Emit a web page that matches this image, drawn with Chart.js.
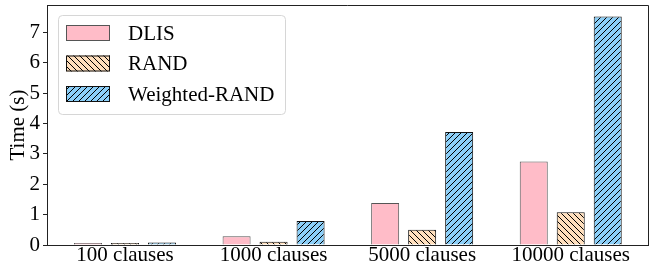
<!DOCTYPE html>
<html>
<head>
<meta charset="utf-8">
<script src="https://cdn.jsdelivr.net/npm/chart.js@4.4.0/dist/chart.umd.min.js"></script>
<style>
  html, body { margin: 0; padding: 0; background: #fff; }
  #chart { display: block; }
</style>
</head>
<body>
<canvas id="chart" width="658" height="267"></canvas>
<script>
    'use strict';

    // Chart data
    const categories = ['100 clauses', '1000 clauses', '5000 clauses', '10000 clauses'];
    const seriesNames = ['DLIS', 'RAND', 'Weighted-RAND'];
    const dlisTimes = [0.03, 0.29, 1.38, 2.75];
    const randTimes = [0.02, 0.11, 0.50, 1.08];
    const weightedRandTimes = [0.08, 0.79, 3.72, 7.52];
    const yTicks = [0, 1, 2, 3, 4, 5, 6, 7];

    const FONT = "'Liberation Serif', 'Times New Roman', serif";

    /**
     * Build a hatch pattern (dir 1 = '/', dir -1 = '\')
     */
    function makeHatch(fill, dir, size) {
        const tile = document.createElement('canvas');
        tile.width = size;
        tile.height = size;
        const c = tile.getContext('2d');
        c.fillStyle = fill;
        c.fillRect(0, 0, size, size);
        c.strokeStyle = '#000';
        c.lineWidth = 1;
        c.beginPath();
        if (dir > 0) {
            c.moveTo(0, size); c.lineTo(size, 0);
            c.moveTo(-1, 1); c.lineTo(1, -1);
            c.moveTo(size - 1, size + 1); c.lineTo(size + 1, size - 1);
        } else {
            c.moveTo(0, 0); c.lineTo(size, size);
            c.moveTo(-1, size - 1); c.lineTo(1, size + 1);
            c.moveTo(size - 1, -1); c.lineTo(size + 1, 1);
        }
        c.stroke();
        return c.createPattern(tile, 'repeat');
    }

    const toPoints = values => values.map((v, i) => ({ x: i, y: v }));

    // Frame (top/right spines) and in-plot legend
    const framePlugin = {
        id: 'frameAndLegend',
        afterDraw(chart) {
            const ctx = chart.ctx;
            const a = chart.chartArea;
            ctx.save();
            ctx.strokeStyle = '#222';
            ctx.lineWidth = 1;
            ctx.beginPath();
            ctx.moveTo(a.left, a.top + 0.5);
            ctx.lineTo(a.right + 0.5, a.top + 0.5);
            ctx.lineTo(a.right + 0.5, a.bottom);
            ctx.stroke();

            // legend box
            const bx = a.left + 11, by = a.top + 10, bw = 227, bh = 99;
            ctx.fillStyle = 'rgba(255,255,255,0.8)';
            ctx.strokeStyle = '#d6d6d6';
            ctx.beginPath();
            ctx.roundRect(bx + 0.5, by + 0.5, bw, bh, 4);
            ctx.fill();
            ctx.stroke();

            ctx.font = '21px ' + FONT;
            ctx.textBaseline = 'middle';
            ctx.textAlign = 'left';
            chart.data.datasets.forEach((ds, i) => {
                const py = by + 10 + i * 30.5;
                ctx.fillStyle = ds.backgroundColor;
                ctx.fillRect(bx + 8, py, 44, 16);
                ctx.strokeStyle = ds.borderColor;
                ctx.strokeRect(bx + 8.5, py + 0.5, 43, 15);
                ctx.fillStyle = '#000';
                ctx.fillText(ds.label, bx + 70, py + 9);
            });
            ctx.restore();
        }
    };

    const ctx = document.getElementById('chart').getContext('2d');
    new Chart(ctx, {
        type: 'bar',
        data: {
            datasets: [{
                label: seriesNames[0],
                data: toPoints(dlisTimes),
                backgroundColor: '#ffbcc8',
                borderColor: '#555',
                borderWidth: 1
            }, {
                label: seriesNames[1],
                data: toPoints(randTimes),
                backgroundColor: makeHatch('#ffdfbd', -1, 6),
                borderColor: '#111',
                borderWidth: 1
            }, {
                label: seriesNames[2],
                data: toPoints(weightedRandTimes),
                backgroundColor: makeHatch('#8ccff8', 1, 6),
                borderColor: '#111',
                borderWidth: 1
            }]
        },
        options: {
            responsive: false,
            animation: false,
            devicePixelRatio: 1,
            layout: { padding: { top: 5, right: 10, left: 0, bottom: 0 } },
            categoryPercentage: 0.747,
            barPercentage: 0.757,
            minBarLength: 2,
            plugins: {
                legend: { display: false },
                tooltip: { enabled: false }
            },
            scales: {
                x: {
                    type: 'linear',
                    offset: false,
                    min: -0.525,
                    max: 3.52,
                    afterBuildTicks: scale => {
                        scale.ticks = categories.map((c, i) => ({ value: i }));
                    },
                    afterFit: scale => {
                        scale.height = 22;
                        scale.paddingLeft = 0;
                        scale.paddingRight = 0;
                    },
                    ticks: {
                        callback: v => categories[v],
                        color: '#000',
                        font: { family: FONT, size: 21 },
                        padding: -2,
                        maxRotation: 0,
                        autoSkip: false
                    },
                    grid: { display: false, drawTicks: false },
                    border: { display: true, color: '#222', width: 1 }
                },
                y: {
                    min: 0,
                    max: 7.9,
                    afterBuildTicks: scale => {
                        scale.ticks = yTicks.map(v => ({ value: v }));
                    },
                    afterFit: scale => {
                        scale.width = 47;
                        scale.paddingTop = 0;
                        scale.paddingBottom = 0;
                    },
                    ticks: {
                        color: '#000',
                        font: { family: FONT, size: 21 },
                        padding: 3
                    },
                    grid: {
                        drawOnChartArea: false,
                        drawTicks: true,
                        tickLength: 4,
                        color: '#222'
                    },
                    border: { display: true, color: '#222', width: 1 },
                    title: {
                        display: true,
                        text: 'Time (s)',
                        color: '#000',
                        font: { family: FONT, size: 21 },
                        padding: { top: 6, bottom: 0 }
                    }
                }
            }
        },
        plugins: [framePlugin]
    });
</script>
</body>
</html>
